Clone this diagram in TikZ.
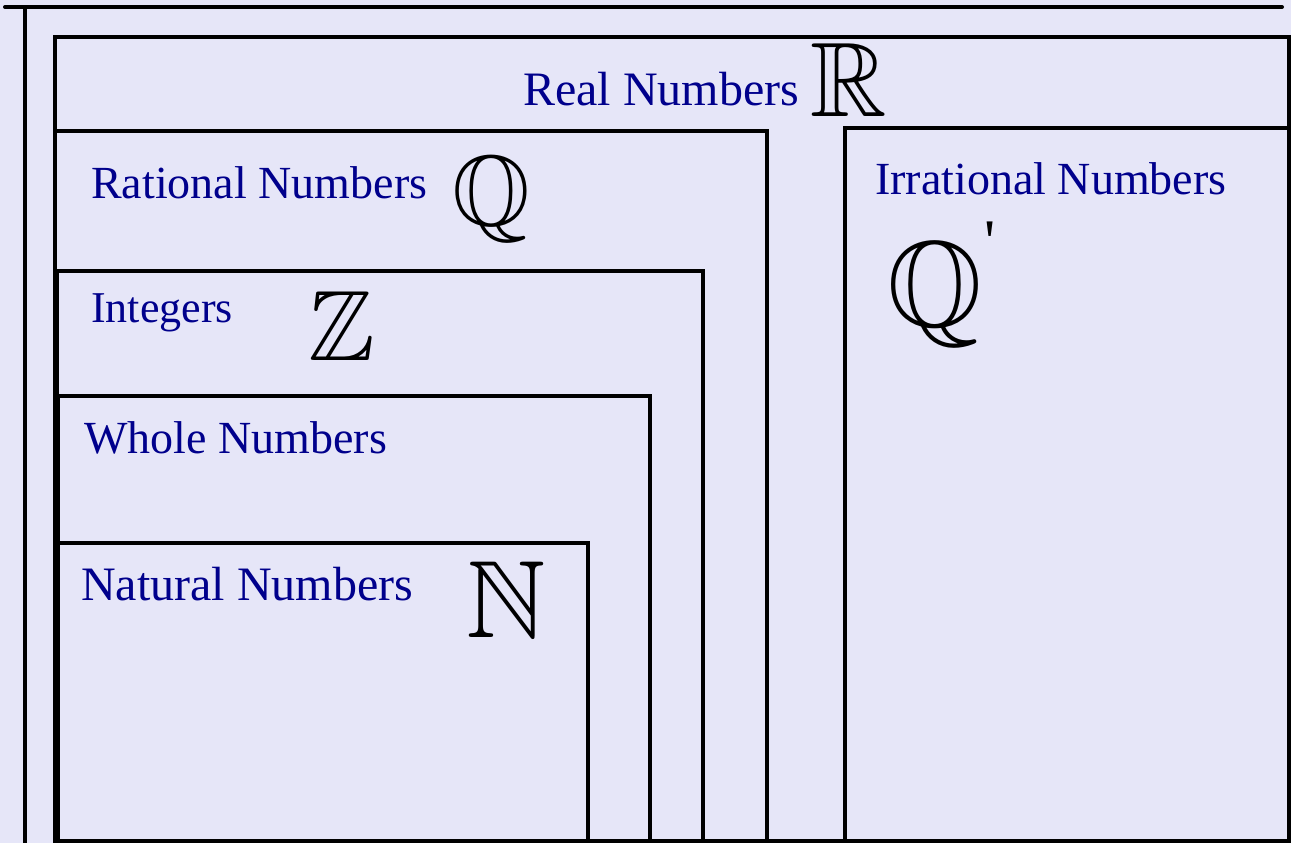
\documentclass[tikz,border=0pt]{standalone}
\usepackage{amssymb}
\usepackage{fontspec}
\setmainfont{Liberation Serif}
\newfontfamily\plainserif{Liberation Serif}
\definecolor{bgc}{RGB}{230,230,248}
\definecolor{txt}{RGB}{0,0,140}
\begin{document}
\begin{tikzpicture}[x=1pt,y=-1pt,
  frame/.style={draw=black,line width=4pt},
  lbl/.style={anchor=base west,inner sep=0pt,text=txt,font=\fontsize{46}{50}\selectfont},
  sym/.style={anchor=base west,inner sep=0pt,text=black}]
\useasboundingbox (0,0) rectangle (1291,843);
\fill[bgc] (0,0) rectangle (1291,843);
\begin{scope}
\clip (0,0) rectangle (1291,843);
\draw[frame,line cap=round] (5,7) -- (1282,7);
\draw[frame] (25,7) -- (25,860);
\draw[frame] (55,37) rectangle (1289,841);
\draw[frame] (55,131) rectangle (767,841);
\draw[frame] (845,128) rectangle (1289,841);
\draw[frame] (57,271) rectangle (703,841);
\draw[frame] (58,396) rectangle (650,841);
\draw[frame] (58,543) rectangle (588,841);
\end{scope}
\node[lbl,font=\fontsize{48}{52}\selectfont] (real) at (523,106) {Real Numbers};
\node[sym,font=\fontsize{106}{110}\selectfont] (R) at (810,117) {$\mathbb{R}$};
\node[lbl] (rat) at (91,198) {Rational Numbers};
\node[sym,font=\fontsize{100}{104}\selectfont] (Q) at (452,225) {$\mathbb{Q}$};
\node[lbl] (irr) at (875,194) {Irrational Numbers};
\node[sym,font=\fontsize{122}{126}\selectfont] (Qp) at (887,326) {$\mathbb{Q}$};
\node[anchor=north west,inner sep=0pt,font=\plainserif\fontsize{62}{66}\selectfont] (prime) at (984,222) {'};
\node[lbl,font=\fontsize{44}{48}\selectfont] (int) at (91,322) {Integers};
\node[sym,font=\fontsize{100}{104}\selectfont] (Z) at (308,360) {$\mathbb{Z}$};
\node[lbl] (whole) at (84,453) {Whole Numbers};
\node[lbl,font=\fontsize{48}{52}\selectfont] (nat) at (81,600) {Natural Numbers};
\node[sym,font=\fontsize{110}{114}\selectfont] (N) at (466,637) {$\mathbb{N}$};
\end{tikzpicture}
\end{document}
